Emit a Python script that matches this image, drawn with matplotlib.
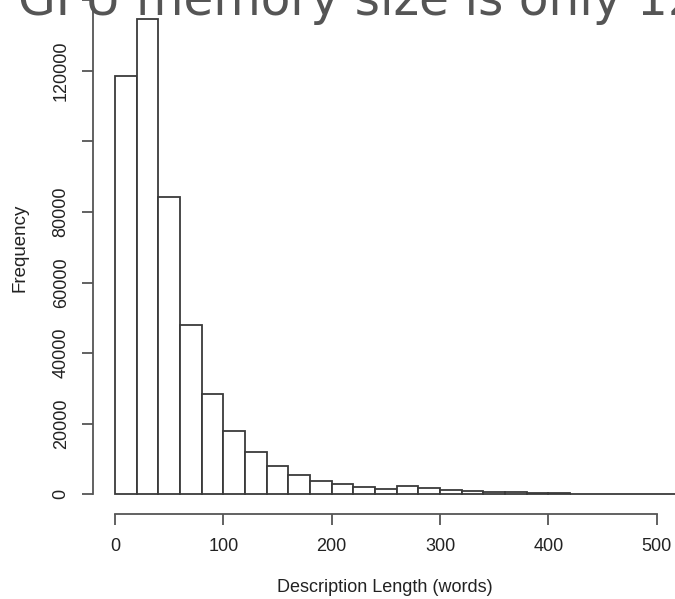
import matplotlib
matplotlib.use("Agg")
import matplotlib.pyplot as plt
import numpy as np

# histogram of description lengths, bins of 20 words
bin_edges = np.arange(0, 620, 20)
counts = [118600, 134700, 84200, 48070, 28380, 17930, 11930, 7930, 5400, 3730,
          2970, 2050, 1680, 2410, 1870, 1310, 930, 750, 560, 320,
          280, 250, 220, 190, 160, 140, 120, 100, 90, 80]
x_ticks = [0, 100, 200, 300, 400, 500]
y_ticks = [0, 20000, 40000, 60000, 80000, 100000, 120000, 140000]
y_labels = ['0', '20000', '40000', '60000', '80000', '', '120000', '']

plt.rcParams['font.family'] = ['Liberation Sans', 'DejaVu Sans']

fig = plt.figure(figsize=(6.75, 5.99), dpi=100)
ax = fig.add_axes([0, 0, 1, 1])
ax.patch.set_alpha(0)

ax.bar(bin_edges[:-1], counts, width=20, align='edge', color='white',
       edgecolor='#3a3a3a', linewidth=1.3)

# map pixels to data: x 0 at px 115, 108.33 px per 100; y 0 at px 493.3, 71.4 px per 20000
px_per_x = 1.0833
px_per_y = 71.4 / 20000
ax.set_xlim(-115 / px_per_x, (675 - 115) / px_per_x)
ax.set_ylim(-(599 - 493.3) / px_per_y, 493.3 / px_per_y)

for s in ['top', 'right']:
    ax.spines[s].set_visible(False)
ax.spines['left'].set_position(('data', -20))
ax.spines['left'].set_bounds(0, 140000)
ax.spines['bottom'].set_position(('data', -5600))
ax.spines['bottom'].set_bounds(0, 500)
for s in ['left', 'bottom']:
    ax.spines[s].set_color('#555555')
    ax.spines[s].set_linewidth(1.3)

ax.set_xticks(x_ticks)
ax.set_yticks(y_ticks)
ax.set_yticklabels(y_labels, rotation=90, va='center')
ax.tick_params(direction='out', length=8, width=1.3, color='#555555',
               labelsize=13, labelcolor='#222222', pad=9)

fig.text(385 / 675, 1 - 588 / 599, 'Description Length (words)',
         ha='center', va='center', fontsize=13, color='#222222')
fig.text(20 / 675, 1 - 248 / 599, 'Frequency', rotation=90,
         ha='center', va='center', fontsize=13.5, color='#222222')

fig.text(18 / 675, 1 - 15 / 599, 'GPU memory size is only 12',
         family='DejaVu Sans', fontsize=35, color='#555555',
         ha='left', va='baseline')

fig.savefig('out.png', dpi=100)
